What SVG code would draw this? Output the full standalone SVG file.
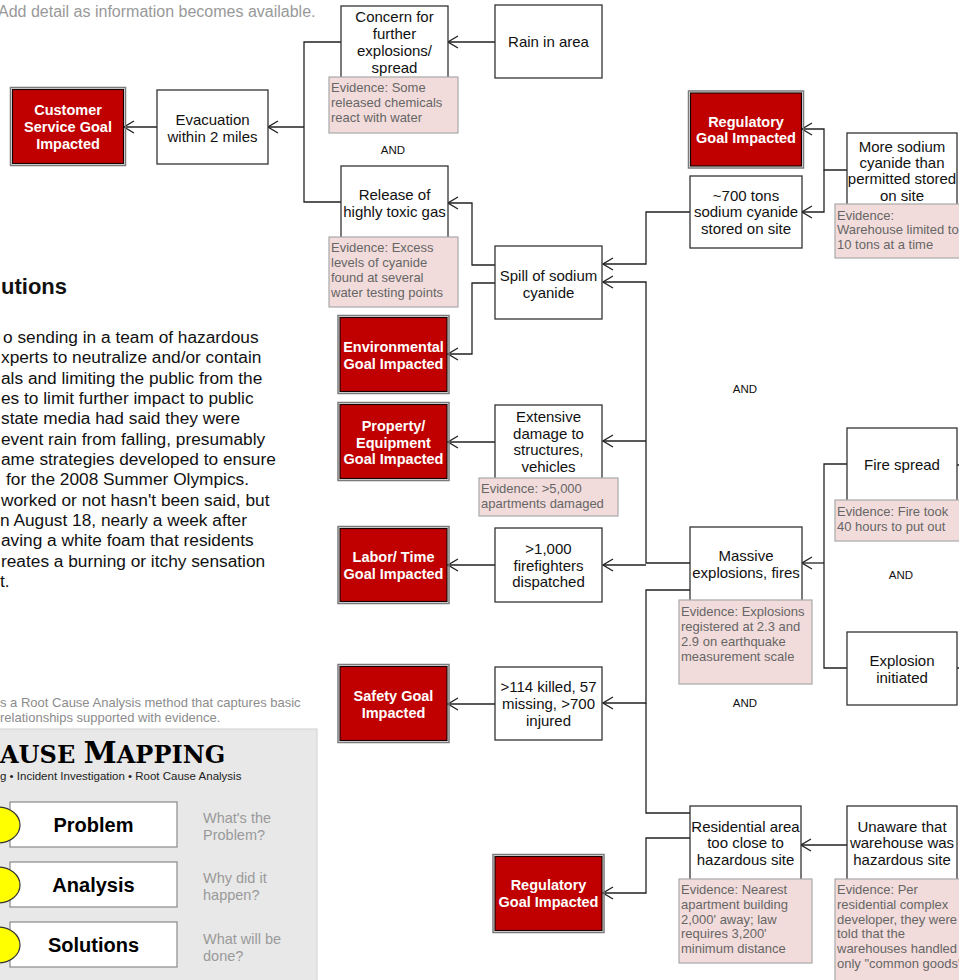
<svg xmlns="http://www.w3.org/2000/svg" width="959" height="980" viewBox="0 0 959 980">
<defs>
<marker id="ah" markerUnits="userSpaceOnUse" markerWidth="12" markerHeight="14" viewBox="0 0 12 14" refX="11" refY="7" orient="auto"><path d="M1,1 L11,7 L1,13" fill="none" stroke="#222" stroke-width="1.3"/></marker>
<style>
text{font-family:"Liberation Sans",Arial,sans-serif}
.box{fill:#fff;stroke:#333;stroke-width:1.3}
.goal{fill:#c00000;stroke:#1a0000;stroke-width:1.2}
.goalo{fill:none;stroke:#7a7a7a;stroke-width:1.5}
.ev{fill:#f2dcdb;stroke:#a8a8a8;stroke-width:1.2}
.t{font-size:15px;fill:#111;text-anchor:middle}
.gt{font-size:14.5px;font-weight:bold;fill:#fff;text-anchor:middle}
.et{font-size:13px;fill:#666}
.and{font-size:11.5px;fill:#111;text-anchor:middle}
.c{fill:none;stroke:#222;stroke-width:1.3}
.ca{fill:none;stroke:#222;stroke-width:1.3;marker-end:url(#ah)}
.para{font-size:17.3px;fill:#111}
.gray{font-size:14.5px;fill:#9a9a9a}
.step{fill:#fff;stroke:#8a8a8a;stroke-width:1.2}
.stept{font-size:20px;font-weight:bold;fill:#000;text-anchor:middle}
.yel{fill:#ffff00;stroke:#333;stroke-width:1.2}
</style>
</defs>
<rect x="0" y="0" width="959" height="980" fill="#fff"/>

<!-- left side texts -->
<g id="note">
<text x="-2" y="17" style="font-size:16px;fill:#999">Add detail as information becomes available.</text>
</g>
<g id="solutions-text">
<text x="1" y="294" style="font-size:22px;font-weight:bold;fill:#111">utions</text>
<text class="para" x="3" y="343">o sending in a team of hazardous</text>
<text class="para" x="1" y="363.3">xperts to neutralize and/or contain</text>
<text class="para" x="1" y="383.7">als and limiting the public from the</text>
<text class="para" x="1" y="404">es to limit further impact to public</text>
<text class="para" x="1" y="424.3">state media had said they were</text>
<text class="para" x="1" y="444.7">event rain from falling, presumably</text>
<text class="para" x="1" y="465">ame strategies developed to ensure</text>
<text class="para" x="6" y="485.3">for the 2008 Summer Olympics.</text>
<text class="para" x="1" y="505.7">worked or not hasn't been said, but</text>
<text class="para" x="0" y="526">n August 18, nearly a week after</text>
<text class="para" x="1" y="546.3">aving a white foam that residents</text>
<text class="para" x="1" y="566.7">reates a burning or itchy sensation</text>
<text class="para" x="0" y="587">t.</text>
</g>
<g id="cause-mapping-panel">
<text x="0" y="707" style="font-size:13px;fill:#8c8c8c">s a Root Cause Analysis method that captures basic</text>
<text x="0" y="722" style="font-size:13px;fill:#8c8c8c">relationships supported with evidence.</text>
<rect x="-1" y="729" width="318" height="262" fill="#e8e8e8" stroke="#d2d2d2" stroke-width="1"/>
<text x="0" y="763" style="font-family:'DejaVu Serif',serif;font-weight:bold;fill:#000;font-size:24px">AUSE <tspan style="font-size:30px">M</tspan>APPING</text>
<text x="0" y="780" style="font-size:11.5px;fill:#222">g • Incident Investigation • Root Cause Analysis</text>
<rect class="step" x="10" y="802" width="167" height="45"/>
<rect class="step" x="10" y="862" width="167" height="45"/>
<rect class="step" x="10" y="922" width="167" height="45"/>
<ellipse class="yel" cx="-2" cy="825" rx="22" ry="18"/>
<ellipse class="yel" cx="-2" cy="885" rx="22" ry="18"/>
<ellipse class="yel" cx="-2" cy="945" rx="22" ry="18"/>
<text class="stept" x="93.5" y="832">Problem</text>
<text class="stept" x="93.5" y="892">Analysis</text>
<text class="stept" x="93.5" y="952">Solutions</text>
<text class="gray" x="203" y="823">What's the</text>
<text class="gray" x="203" y="840">Problem?</text>
<text class="gray" x="203" y="883">Why did it</text>
<text class="gray" x="203" y="900">happen?</text>
<text class="gray" x="203" y="944">What will be</text>
<text class="gray" x="203" y="961">done?</text>
</g>

<!-- connectors -->
<g id="connectors">
<path class="ca" d="M495,42 H448"/>
<path class="c" d="M341,42 H304 V202 H341"/>
<path class="ca" d="M304,127 H268"/>
<path class="ca" d="M157,127 H124"/>
<path class="ca" d="M495,265 H472 V203 H448"/>
<path class="ca" d="M495,283 H472 V354 H448"/>
<path class="ca" d="M690,212 H646 V264 H603"/>
<path class="ca" d="M847,170 H824 V129 H802"/>
<path class="ca" d="M824,170 V212 H802"/>
<path class="ca" d="M690,563 H646 V282 H603"/>
<path class="ca" d="M646,441 H603"/>
<path class="ca" d="M646,565 H603"/>
<path class="ca" d="M495,442 H448"/>
<path class="ca" d="M495,565 H448"/>
<path class="ca" d="M495,704 H448"/>
<path class="ca" d="M690,590 H646 V703 H603"/>
<path class="c" d="M690,813 H646 V703"/>
<path class="ca" d="M690,838 H646 V893 H603"/>
<path class="c" d="M847,464 H824 V668 H847"/>
<path class="ca" d="M824,563 H802"/>
<path class="ca" d="M847,845 H801"/>
<path class="c" d="M957,465 H960"/>
<path class="c" d="M957,668 H960"/>
</g>

<!-- nodes -->
<g id="customer-goal">
<rect class="goalo" x="10.5" y="87.5" width="115" height="78"/>
<rect class="goal" x="12.5" y="89.5" width="111" height="74"/>
<text class="gt" x="68" y="115">Customer</text>
<text class="gt" x="68" y="132">Service Goal</text>
<text class="gt" x="68" y="149">Impacted</text>
</g>
<g id="evacuation">
<rect class="box" x="157" y="90" width="111" height="74"/>
<text class="t" x="212.5" y="124.5">Evacuation</text>
<text class="t" x="212.5" y="141.5">within 2 miles</text>
</g>
<g id="concern">
<rect class="box" x="341" y="6" width="107" height="74"/>
<text class="t" x="394.5" y="22">Concern for</text>
<text class="t" x="394.5" y="39">further</text>
<text class="t" x="394.5" y="56">explosions/</text>
<text class="t" x="394.5" y="73">spread</text>
<rect class="ev" x="329" y="77" width="129" height="56"/>
<text class="et" x="331" y="91.5">Evidence: Some</text>
<text class="et" x="331" y="106.5">released chemicals</text>
<text class="et" x="331" y="121.5">react with water</text>
</g>
<g id="rain">
<rect class="box" x="495" y="5" width="107" height="73"/>
<text class="t" x="548.5" y="47">Rain in area</text>
</g>
<g id="and1"><text class="and" x="393" y="154">AND</text></g>
<g id="release">
<rect class="box" x="341" y="166" width="107" height="74"/>
<text class="t" x="394.5" y="200">Release of</text>
<text class="t" x="394.5" y="217">highly toxic gas</text>
<rect class="ev" x="329" y="237" width="129" height="70"/>
<text class="et" x="331" y="251.5">Evidence: Excess</text>
<text class="et" x="331" y="266.5">levels of cyanide</text>
<text class="et" x="331" y="281.5">found at several</text>
<text class="et" x="331" y="296.5">water testing points</text>
</g>
<g id="spill">
<rect class="box" x="495" y="246" width="107" height="73"/>
<text class="t" x="548.5" y="281">Spill of sodium</text>
<text class="t" x="548.5" y="298">cyanide</text>
</g>
<g id="environmental-goal">
<rect class="goalo" x="338" y="315.5" width="111" height="78"/>
<rect class="goal" x="340" y="317.5" width="107" height="74"/>
<text class="gt" x="393.5" y="352">Environmental</text>
<text class="gt" x="393.5" y="369">Goal Impacted</text>
</g>
<g id="property-goal">
<rect class="goalo" x="338" y="402.5" width="111" height="78"/>
<rect class="goal" x="340" y="404.5" width="107" height="74"/>
<text class="gt" x="393.5" y="431">Property/</text>
<text class="gt" x="393.5" y="447.5">Equipment</text>
<text class="gt" x="393.5" y="464">Goal Impacted</text>
</g>
<g id="extensive-damage">
<rect class="box" x="495" y="405" width="107" height="74"/>
<text class="t" x="548.5" y="422">Extensive</text>
<text class="t" x="548.5" y="439">damage to</text>
<text class="t" x="548.5" y="455">structures,</text>
<text class="t" x="548.5" y="472">vehicles</text>
<rect class="ev" x="479" y="478" width="139" height="38"/>
<text class="et" x="481" y="492.5">Evidence: &gt;5,000</text>
<text class="et" x="481" y="507.5">apartments damaged</text>
</g>
<g id="labor-goal">
<rect class="goalo" x="338" y="526.5" width="111" height="77"/>
<rect class="goal" x="340" y="528.5" width="107" height="73"/>
<text class="gt" x="393.5" y="562">Labor/ Time</text>
<text class="gt" x="393.5" y="579">Goal Impacted</text>
</g>
<g id="firefighters">
<rect class="box" x="495" y="528" width="107" height="74"/>
<text class="t" x="548.5" y="554">&gt;1,000</text>
<text class="t" x="548.5" y="571">firefighters</text>
<text class="t" x="548.5" y="587">dispatched</text>
</g>
<g id="safety-goal">
<rect class="goalo" x="338" y="664.5" width="111" height="78"/>
<rect class="goal" x="340" y="666.5" width="107" height="74"/>
<text class="gt" x="393.5" y="701">Safety Goal</text>
<text class="gt" x="393.5" y="718">Impacted</text>
</g>
<g id="casualties">
<rect class="box" x="495" y="667" width="107" height="73"/>
<text class="t" x="548.5" y="692">&gt;114 killed, 57</text>
<text class="t" x="548.5" y="709">missing, &gt;700</text>
<text class="t" x="548.5" y="726">injured</text>
</g>
<g id="regulatory-goal-bottom">
<rect class="goalo" x="493" y="854.5" width="111" height="78"/>
<rect class="goal" x="495" y="856.5" width="107" height="74"/>
<text class="gt" x="548.5" y="890">Regulatory</text>
<text class="gt" x="548.5" y="907">Goal Impacted</text>
</g>
<g id="regulatory-goal-top">
<rect class="goalo" x="688.5" y="91" width="115" height="77"/>
<rect class="goal" x="690.5" y="93" width="111" height="73"/>
<text class="gt" x="746" y="127">Regulatory</text>
<text class="gt" x="746" y="143">Goal Impacted</text>
</g>
<g id="tons-700">
<rect class="box" x="690" y="176" width="112" height="72"/>
<text class="t" x="746" y="201">~700 tons</text>
<text class="t" x="746" y="217">sodium cyanide</text>
<text class="t" x="746" y="234">stored on site</text>
</g>
<g id="more-sodium">
<rect class="box" x="847" y="133" width="110" height="73"/>
<text class="t" x="902" y="152">More sodium</text>
<text class="t" x="902" y="168">cyanide than</text>
<text class="t" x="902" y="184">permitted stored</text>
<text class="t" x="902" y="201">on site</text>
<rect class="ev" x="835" y="204" width="130" height="54"/>
<text class="et" x="837" y="219.5">Evidence:</text>
<text class="et" x="837" y="233.5">Warehouse limited to</text>
<text class="et" x="837" y="248.5">10 tons at a time</text>
</g>
<g id="and2"><text class="and" x="745" y="393">AND</text></g>
<g id="fire-spread">
<rect class="box" x="847" y="428" width="110" height="74"/>
<text class="t" x="902" y="470">Fire spread</text>
<rect class="ev" x="835" y="500" width="130" height="41"/>
<text class="et" x="837" y="515.5">Evidence: Fire took</text>
<text class="et" x="837" y="530.5">40 hours to put out</text>
</g>
<g id="massive-explosions">
<rect class="box" x="690" y="527" width="112" height="74"/>
<text class="t" x="746" y="561">Massive</text>
<text class="t" x="746" y="578">explosions, fires</text>
<rect class="ev" x="679" y="600" width="133" height="84"/>
<text class="et" x="681" y="615.5">Evidence: Explosions</text>
<text class="et" x="681" y="630.5">registered at 2.3 and</text>
<text class="et" x="681" y="645.5">2.9 on earthquake</text>
<text class="et" x="681" y="660.5">measurement scale</text>
</g>
<g id="and3"><text class="and" x="901" y="579">AND</text></g>
<g id="explosion-initiated">
<rect class="box" x="847" y="632" width="110" height="73"/>
<text class="t" x="902" y="666">Explosion</text>
<text class="t" x="902" y="683">initiated</text>
</g>
<g id="and4"><text class="and" x="745" y="707">AND</text></g>
<g id="residential">
<rect class="box" x="690" y="806" width="111" height="74"/>
<text class="t" x="745.5" y="832">Residential area</text>
<text class="t" x="745.5" y="848">too close to</text>
<text class="t" x="745.5" y="865">hazardous site</text>
<rect class="ev" x="679" y="879" width="133" height="84"/>
<text class="et" x="681" y="893.5">Evidence: Nearest</text>
<text class="et" x="681" y="908.5">apartment building</text>
<text class="et" x="681" y="923.5">2,000' away; law</text>
<text class="et" x="681" y="937.5">requires 3,200'</text>
<text class="et" x="681" y="952.5">minimum distance</text>
</g>
<g id="unaware">
<rect class="box" x="847" y="806" width="110" height="74"/>
<text class="t" x="902" y="832">Unaware that</text>
<text class="t" x="902" y="848">warehouse was</text>
<text class="t" x="902" y="865">hazardous site</text>
<rect class="ev" x="835" y="879" width="130" height="110"/>
<text class="et" x="837" y="893.5">Evidence: Per</text>
<text class="et" x="837" y="908.5">residential complex</text>
<text class="et" x="837" y="923.5">developer, they were</text>
<text class="et" x="837" y="937.5">told that the</text>
<text class="et" x="837" y="952.5">warehouses handled</text>
<text class="et" x="837" y="967.5">only "common goods"</text>
</g>
</svg>
